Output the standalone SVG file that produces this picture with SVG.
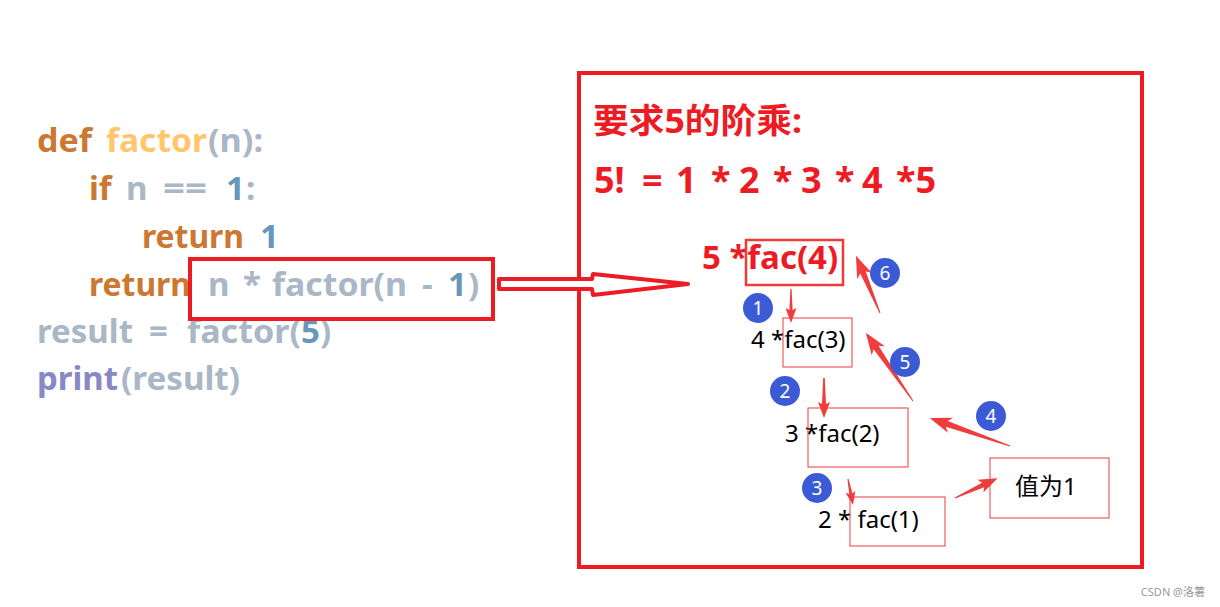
<svg xmlns="http://www.w3.org/2000/svg" width="1220" height="607" viewBox="0 0 1220 607">
<style>
.code{font-family:"Noto Sans","Open Sans",sans-serif;font-weight:bold;font-size:33px}
.kw{fill:#CC7832}.fn{fill:#FFC66D}.pl{fill:#A9B7C6}.num{fill:#6897BB}.bi{fill:#8888C6}
.red{fill:#ED1C24;font-family:"Noto Sans","Noto Sans CJK SC",sans-serif;font-weight:bold}
.blk{fill:#000;font-family:"Noto Sans","Noto Sans CJK SC",sans-serif;font-size:24px}
.thin{fill:none;stroke:#F03A3A;stroke-width:1}
.arr{fill:#F03C3C}
.badge circle{fill:#3B5BD6}
.badge text{fill:#fff;font-family:"Noto Sans",sans-serif;font-size:19px;text-anchor:middle}
</style>
<rect width="1220" height="607" fill="#fff"/>

<g id="code" class="code">
  <text y="152"><tspan class="kw" x="37" textLength="55" lengthAdjust="spacingAndGlyphs">def</tspan><tspan class="fn" x="106" textLength="101" lengthAdjust="spacingAndGlyphs">factor</tspan><tspan class="pl" x="208" textLength="55" lengthAdjust="spacingAndGlyphs">(n):</tspan></text>
  <text y="200"><tspan class="kw" x="89">if</tspan><tspan class="pl" x="126">n</tspan><tspan class="pl" x="163" textLength="44" lengthAdjust="spacingAndGlyphs">==</tspan><tspan class="num" x="226">1</tspan><tspan class="pl" x="246">:</tspan></text>
  <text y="248"><tspan class="kw" x="142" textLength="102" lengthAdjust="spacingAndGlyphs">return</tspan><tspan class="num" x="260">1</tspan></text>
  <text y="296"><tspan class="kw" x="89" textLength="102" lengthAdjust="spacingAndGlyphs">return</tspan><tspan class="pl" x="208">n</tspan><tspan class="pl" x="243">*</tspan><tspan class="pl" x="272" textLength="135" lengthAdjust="spacingAndGlyphs">factor(n</tspan><tspan class="pl" x="422">-</tspan><tspan class="num" x="448">1</tspan><tspan class="pl" x="468">)</tspan></text>
  <text y="343"><tspan class="pl" x="37" textLength="96" lengthAdjust="spacingAndGlyphs">result</tspan><tspan class="pl" x="149">=</tspan><tspan class="pl" x="187" textLength="114" lengthAdjust="spacingAndGlyphs">factor(</tspan><tspan class="num" x="301">5</tspan><tspan class="pl" x="320">)</tspan></text>
  <text y="390"><tspan class="bi" x="37" textLength="81" lengthAdjust="spacingAndGlyphs">print</tspan><tspan class="pl" x="121" textLength="119" lengthAdjust="spacingAndGlyphs">(result)</tspan></text>
</g>

<g id="code-highlight">
  <rect x="190" y="259" width="303" height="60" fill="none" stroke="#ED1C24" stroke-width="4"/>
</g>

<g id="panel">
  <rect x="579" y="73" width="563" height="494" fill="none" stroke="#ED1C24" stroke-width="4"/>
  <text class="red" x="593" y="133" font-size="34" textLength="209" lengthAdjust="spacingAndGlyphs">要求5的阶乘:</text>
  <text class="red" y="193" font-size="36"><tspan x="594">5!</tspan><tspan x="642">=</tspan><tspan x="676">1</tspan><tspan x="711">*</tspan><tspan x="739">2</tspan><tspan x="773">*</tspan><tspan x="801">3</tspan><tspan x="835">*</tspan><tspan x="862">4</tspan><tspan x="896">*5</tspan></text>
</g>

<g id="n5">
  <text class="red" x="702" y="269" font-size="33">5 *fac(4)</text>
  <rect x="746" y="240" width="97" height="45" fill="none" stroke="#F03A3A" stroke-width="2.5"/>
</g>
<g id="n4">
  <text class="blk" x="751" y="348">4 *fac(3)</text>
  <rect class="thin" x="783" y="318" width="69" height="49"/>
</g>
<g id="n3">
  <text class="blk" x="785" y="442">3 *fac(2)</text>
  <rect class="thin" x="808" y="408" width="100" height="59"/>
</g>
<g id="n2">
  <text class="blk" x="818" y="528">2 * fac(1)</text>
  <rect class="thin" x="850" y="497" width="95" height="49"/>
</g>
<g id="n1">
  <text class="blk" x="1015" y="495">值为1</text>
  <rect class="thin" x="990" y="458" width="119" height="60"/>
</g>

<g id="connectors">
  <path d="M499,279 L592,279 L593,274 L688,284 L593,295 L592,289 L499,289 Z" fill="#fff" stroke="#ED1C24" stroke-width="4" stroke-linejoin="round"/>
  <polygon class="arr" transform="translate(791,289) rotate(90)" points="0,-0.6 21,-1.6 19,-5.5 34,0 19,5.5 21,1.6 0,0.6"/>
  <polygon class="arr" transform="translate(824,378) rotate(90)" points="0,-0.8 26,-2 24,-6 40,0 24,6 26,2 0,0.8"/>
  <polygon class="arr" transform="translate(848,479) rotate(79.1)" points="0,-0.6 15,-1.6 13,-5 26.5,0 13,5 15,1.6 0,0.6"/>
  <polygon class="arr" transform="translate(955,498) rotate(-24.9)" points="0,-0.5 31,-2.5 28,-7 47,0 28,7 31,2.5 0,0.5"/>
  <polygon class="arr" transform="translate(1010,446) rotate(-160.7)" points="0,-0.5 67,-3 63,-8 85,0 63,8 67,3 0,0.5"/>
  <polygon class="arr" transform="translate(913,401) rotate(-124.65)" points="0,-0.5 65,-3 61,-8 83,0 61,8 65,3 0,0.5"/>
  <polygon class="arr" transform="translate(880,313) rotate(-112.8)" points="0,-0.5 44,-3 40,-8 62,0 40,8 44,3 0,0.5"/>
</g>

<g id="badges">
  <g class="badge" id="b1"><circle cx="758" cy="308" r="15"/><text x="758" y="315">1</text></g>
  <g class="badge" id="b2"><circle cx="785" cy="391" r="15"/><text x="785" y="398">2</text></g>
  <g class="badge" id="b3"><circle cx="817" cy="488" r="15"/><text x="817" y="495">3</text></g>
  <g class="badge" id="b4"><circle cx="991" cy="416" r="15"/><text x="991" y="423">4</text></g>
  <g class="badge" id="b5"><circle cx="905" cy="362" r="15"/><text x="905" y="369">5</text></g>
  <g class="badge" id="b6"><circle cx="885" cy="273" r="15"/><text x="885" y="280">6</text></g>
</g>

<text x="1205" y="596" text-anchor="end" font-family="Noto Sans,Noto Sans CJK SC,sans-serif" font-size="11" fill="#999">CSDN @洛薯</text>
</svg>
